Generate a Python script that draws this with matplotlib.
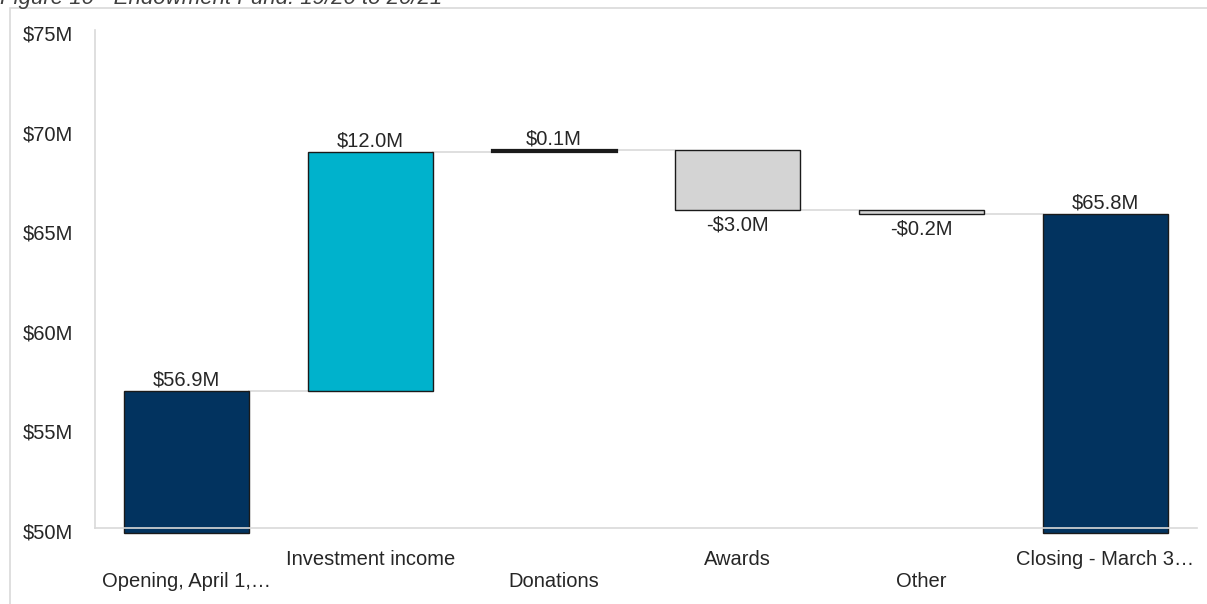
import matplotlib
import numpy as np

matplotlib.use("Agg")
import matplotlib.pyplot as plt
import matplotlib.transforms as mtransforms
from matplotlib.patches import Rectangle

# Endowment fund movement, $M
categories = ["Opening, April 1,\u2026", "Investment income", "Donations", "Awards", "Other", "Closing - March 3\u2026"]
changes = [56.9, 12.0, 0.1, -3.0, -0.2, 65.8]
is_total = [True, False, False, False, False, True]
value_labels = ["$56.9M", "$12.0M", "$0.1M", "-$3.0M", "-$0.2M", "$65.8M"]
ytick_values = [50, 55, 60, 65, 70, 75]
ytick_labels = ["$50M", "$55M", "$60M", "$65M", "$70M", "$75M"]
title = "Figure 10 - Endowment Fund: 19/20 to 20/21"

NAVY = "#02335f"
CYAN = "#00b2cc"
GREY = "#d4d4d4"
LINE = "#d9d9d9"
TEXT = "#262626"
FS = 14.5

plt.rcParams["font.family"] = ["Liberation Sans", "DejaVu Sans"]

fig = plt.figure(figsize=(12.07, 6.04), dpi=100)
W, H = 1207, 604

# light frame around the chart area, running off the right and bottom edges
fig.patches.append(Rectangle((10 / W, -0.05), 1.1, 1 - 8 / H + 0.05, transform=fig.transFigure,
                             facecolor="none", edgecolor=LINE, linewidth=1.2))
fig.text(0 / W, 1 - 4 / H, title, fontsize=16, style="italic", color="#404040",
         ha="left", va="baseline")

ax = fig.add_axes([95 / W, 1 - 528 / H, (1197 - 95) / W, (528 - 30.5) / H])
ax.set_xlim(-0.5, len(categories) - 0.5)
ax.set_ylim(50, 75)
ax.patch.set_alpha(0)

floor = 49.75
width = 0.68
x = np.arange(len(categories))

running = 0.0
levels = []
for i, (delta, total) in enumerate(zip(changes, is_total)):
    if total:
        lo, hi = floor, delta
        color = NAVY
        running = delta
        label_y, above = hi, True
    else:
        start = running
        running = start + delta
        lo, hi = min(start, running), max(start, running)
        if delta >= 0:
            color = CYAN if delta > 1 else "#111111"
            label_y, above = hi, True
        else:
            color = GREY
            label_y, above = lo, False
    thin = (hi - lo) < 0.15
    ax.bar(x[i], hi - lo, bottom=lo, width=width, color=color, edgecolor="#1a1a1a",
           linewidth=1.6 if thin and delta > 0 else 1.0, clip_on=False, zorder=2)
    levels.append(running)
    ax.annotate(value_labels[i], (x[i], label_y), xytext=(0, 1 if above else -4),
                textcoords="offset points", ha="center", va="bottom" if above else "top",
                fontsize=FS, color=TEXT)

# connectors between consecutive bars at the running total
for i in range(len(categories) - 1):
    ax.plot([x[i] + width / 2, x[i + 1] - width / 2], [levels[i], levels[i]],
            color=LINE, linewidth=1.2, zorder=1)

for side in ["top", "right"]:
    ax.spines[side].set_visible(False)
for side in ["left", "bottom"]:
    ax.spines[side].set_color(LINE)
    ax.spines[side].set_linewidth(1.2)
    ax.spines[side].set_zorder(3)

ax.set_yticks(ytick_values)
ax.set_yticklabels(ytick_labels)
ax.tick_params(axis="y", length=0, pad=16, labelsize=FS, labelcolor=TEXT)
shift = mtransforms.ScaledTranslation(0, -3 / 100, fig.dpi_scale_trans)
for lbl in ax.get_yticklabels():
    lbl.set_transform(lbl.get_transform() + shift)

ax.set_xticks(x)
ax.set_xticklabels([])
ax.tick_params(axis="x", length=0)
for i, name in enumerate(categories):
    offset = -54 if i % 2 == 0 else -32
    ax.annotate(name, (x[i], 50), xytext=(0, offset * 0.72), textcoords="offset points",
                ha="center", va="center", fontsize=FS, color=TEXT, annotation_clip=False)

fig.savefig("out.png", dpi=100, facecolor="white")
